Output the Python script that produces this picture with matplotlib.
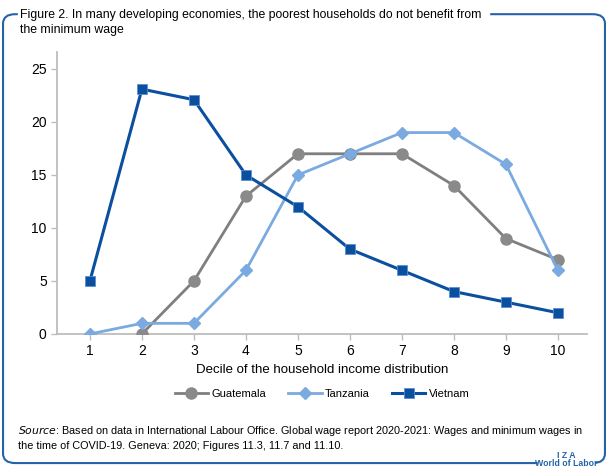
import matplotlib.pyplot as plt
from matplotlib.patches import FancyBboxPatch

plt.rcParams['font.family'] = ['Liberation Sans', 'DejaVu Sans']

# Data
deciles = [1, 2, 3, 4, 5, 6, 7, 8, 9, 10]
guatemala_x = [2, 3, 4, 5, 6, 7, 8, 9, 10]
guatemala = [0, 5, 13, 17, 17, 17, 14, 9, 7]
tanzania = [0, 1, 1, 6, 15, 17, 19, 19, 16, 6]
vietnam = [5, 23.1, 22.1, 15, 12, 8, 6, 4, 3, 2]
y_ticks = [0, 5, 10, 15, 20, 25]

frame_blue = '#2563a8'
c_gua = '#8a8a8a'
c_tan = '#7aaae0'
c_vie = '#0b4f9f'

fig = plt.figure(figsize=(6.08, 4.73), dpi=100)
ax = fig.add_axes([0.094, 0.294, 0.8715, 0.596])

ax.plot(guatemala_x, guatemala, color='#7f7f7f', lw=2, marker='o', ms=8,
        mfc=c_gua, mec=c_gua, label='Guatemala', zorder=3)
ax.plot(deciles, tanzania, color=c_tan, lw=2, marker='D', ms=6,
        mfc=c_tan, mec=c_tan, label='Tanzania', zorder=4)
ax.plot(deciles, vietnam, color=c_vie, lw=2.2, marker='s', ms=7,
        mfc=c_vie, mec='#5b8fd0', mew=0.6, label='Vietnam', zorder=5)

ax.set_xlim(0.37, 10.56)
ax.set_ylim(0, 26.6)
ax.set_xticks(deciles)
ax.set_yticks(y_ticks)
for s in ['top', 'right']:
    ax.spines[s].set_visible(False)
for s in ['left', 'bottom']:
    ax.spines[s].set_color('#bdbdbd')
    ax.spines[s].set_linewidth(1.3)
ax.tick_params(colors='#bdbdbd', labelcolor='black', labelsize=10, length=4, width=1)
ax.set_xlabel('Decile of the household income distribution', fontsize=9.5, labelpad=4)

ax.legend(loc='upper center', bbox_to_anchor=(0.5, -0.16), ncol=3, frameon=False,
          fontsize=8, handlelength=3, columnspacing=2, handletextpad=0.3)

# frame
box = FancyBboxPatch((0.005, 0.021), 0.99, 0.949, boxstyle='round,pad=0,rounding_size=0.02',
                     transform=fig.transFigure, fill=False, ec=frame_blue, lw=1.5)
fig.patches.append(box)
# gaps in frame for title and logo
fig.patches.append(plt.Rectangle((0.030, 0.955), 0.775, 0.03, transform=fig.transFigure,
                                 color='white', zorder=2))
fig.patches.append(plt.Rectangle((0.885, 0.008), 0.092, 0.026, transform=fig.transFigure,
                                 color='white', zorder=2))

fig.text(0.033, 0.952, 'Figure 2. In many developing economies, the poorest households do not benefit from\nthe minimum wage',
         fontsize=8.8, va='center', ha='left', linespacing=1.35, zorder=3)

fig.text(0.03, 0.075, r'$\it{Source}$: Based on data in International Labour Office. Global wage report 2020-2021: Wages and minimum wages in'
         '\nthe time of COVID-19. Geneva: 2020; Figures 11.3, 11.7 and 11.10.',
         fontsize=7.8, va='center', ha='left', linespacing=1.45)

fig.text(0.932, 0.037, 'I Z A', fontsize=6.3, color=frame_blue, ha='center', va='center', weight='bold')
fig.text(0.932, 0.020, 'World of Labor', fontsize=6.3, color=frame_blue, ha='center', va='center', weight='bold', zorder=3)

fig.savefig('out.png', dpi=100)
